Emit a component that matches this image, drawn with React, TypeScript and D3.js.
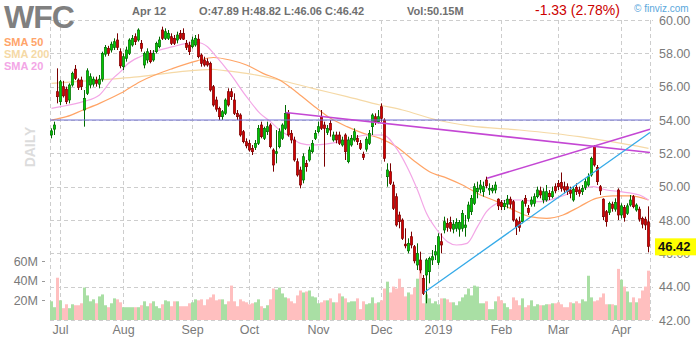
import React from "react";
import * as d3 from "d3";

const opens = [53.1,53.45,55.7,55.1,56.0,55.85,55.2,56.1,57.05,56.4,56.4,54.6,55.6,56.1,56.15,56.4,56.15,56.45,57.95,58.3,58.2,58.35,58.8,58.1,57.2,57.7,58.0,58.5,59.0,58.8,58.6,57.3,57.6,58.0,57.6,58.1,58.4,59.4,58.9,58.9,59.0,58.9,58.8,59.2,59.2,58.6,58.5,58.4,58.5,58.85,57.9,57.6,57.5,57.4,56.0,55.2,54.7,54.2,54.4,55.7,55.7,55.2,54.4,54.3,53.3,52.7,52.6,52.3,52.35,52.6,53.7,52.9,53.3,53.7,52.2,52.0,52.4,52.9,53.5,54.4,53.2,52.8,51.5,51.0,50.4,51.4,51.6,52.1,52.9,53.3,54.2,53.7,53.25,53.8,52.8,53.1,53.1,52.5,53.1,51.5,52.5,52.8,52.9,52.6,51.95,52.25,52.6,53.6,54.2,53.9,54.8,54.0,50.6,50.9,50.1,49.4,48.3,48.0,46.55,46.15,47.0,46.4,45.3,45.6,44.5,44.7,44.9,45.6,45.9,45.45,46.7,47.4,47.8,47.85,47.45,47.5,47.45,47.5,47.55,48.1,48.5,49.0,49.7,49.85,49.7,50.4,49.8,49.75,49.8,49.25,49.05,48.8,48.95,49.25,49.1,48.0,47.9,47.9,49.3,48.7,48.95,49.0,49.4,49.75,49.2,49.2,49.6,49.4,50.0,50.2,50.25,50.0,50.0,49.8,49.2,49.95,49.8,49.7,49.95,50.1,50.7,52.4,51.15,50.0,49.25,48.5,48.45,48.95,48.65,49.8,48.3,48.75,48.4,48.9,49.4,48.6,48.65,48.1,48.05,47.89];
const highs = [53.5,53.9,57.1,56.4,56.35,56.0,56.2,56.9,57.3,56.5,56.6,55.8,57.1,56.8,56.6,56.6,56.7,58.1,58.5,58.45,58.7,58.9,59.2,58.3,58.0,58.4,58.9,59.1,59.2,59.5,58.8,58.1,58.3,58.2,58.2,58.7,59.0,59.6,59.5,59.4,59.2,59.1,59.3,59.4,59.5,58.8,58.7,59.0,59.1,59.15,58.0,57.8,57.7,57.5,56.1,55.4,54.8,54.6,55.3,55.9,55.9,55.6,54.6,54.4,53.4,52.9,52.8,52.5,52.8,53.7,53.9,53.6,53.9,53.8,52.3,53.4,53.5,53.8,54.9,54.6,53.4,53.0,51.7,51.2,52.0,51.6,52.4,52.8,53.4,53.9,54.6,53.9,53.7,54.0,53.3,53.3,53.3,53.0,53.2,53.0,53.1,53.5,53.1,52.8,52.1,53.0,53.4,54.4,54.4,54.6,55.0,54.1,51.4,51.4,50.3,49.6,48.5,48.1,47.5,46.9,47.3,46.5,46.6,46.1,44.7,45.7,45.8,46.2,46.5,47.2,47.2,48.2,48.1,48.2,48.0,48.1,48.0,48.6,48.3,49.1,49.5,50.2,50.3,50.4,50.3,50.6,50.2,50.1,50.3,49.3,49.2,49.2,49.5,49.4,49.2,48.1,48.2,49.2,49.5,48.9,49.4,49.6,50.0,50.0,49.9,50.1,49.8,50.0,50.2,50.4,50.85,50.3,50.2,50.0,50.0,50.2,50.0,50.1,50.5,50.8,51.8,52.5,51.3,50.1,49.3,48.6,49.1,49.1,49.3,49.9,49.0,48.9,49.0,49.5,49.5,49.0,48.8,48.2,48.2,48.82];
const lows = [52.9,53.1,55.0,54.9,55.35,54.95,55.0,56.0,56.4,55.8,55.8,53.6,55.5,55.9,56.0,56.0,55.9,56.3,57.8,57.85,58.05,58.2,58.2,57.1,57.0,57.5,57.9,58.4,58.5,58.7,58.1,57.1,57.4,57.4,57.5,58.0,58.3,58.8,58.8,58.8,58.5,58.5,58.6,58.8,58.8,58.2,57.9,58.3,58.4,57.7,57.2,57.2,57.2,55.7,54.8,54.5,54.0,54.0,54.3,54.8,55.2,54.3,54.0,53.0,52.6,52.3,52.1,51.9,52.2,52.5,52.9,52.8,53.1,52.3,50.9,51.4,52.3,52.8,53.4,53.0,52.6,51.5,50.6,49.9,50.2,50.9,51.5,52.0,52.8,53.2,53.4,51.2,53.1,53.0,52.7,52.6,52.5,52.4,51.6,51.4,52.4,52.7,52.5,52.2,51.6,52.1,52.5,53.1,53.7,53.8,53.9,51.5,50.0,50.1,48.6,47.6,47.5,46.8,46.3,46.0,46.3,45.4,45.0,44.8,43.5,43.0,44.2,45.3,45.6,45.3,46.0,47.2,47.3,47.3,47.2,47.3,47.0,47.3,47.0,47.9,48.3,48.9,49.3,49.6,49.4,49.9,49.5,49.6,49.6,48.6,48.6,48.6,48.7,48.7,47.9,47.1,47.3,47.8,48.8,48.3,48.8,48.8,49.3,49.3,49.0,49.1,49.2,49.3,49.6,49.8,49.7,49.6,49.5,49.3,49.1,49.5,49.4,49.5,49.8,50.0,50.6,51.2,50.1,49.5,48.0,47.6,48.3,48.5,48.5,48.0,48.1,47.9,48.3,48.8,48.7,48.5,47.9,47.5,47.4,46.06];
const closes = [53.35,53.7,55.4,56.3,55.45,55.1,56.1,56.8,56.5,55.95,56.0,55.3,56.95,56.6,56.45,56.2,56.45,58.0,58.35,58.0,58.55,58.7,58.35,57.25,57.8,58.2,58.8,58.9,58.7,59.4,58.3,58.0,58.1,57.5,58.0,58.6,58.8,58.9,59.3,59.2,58.6,58.6,59.1,58.9,58.85,58.35,58.1,58.8,58.9,57.8,57.4,57.3,57.3,55.8,54.9,54.65,54.2,54.5,55.2,54.9,55.4,54.4,54.2,53.1,52.7,52.45,52.2,52.1,52.6,53.5,53.0,53.5,53.6,52.4,51.3,52.1,53.3,53.7,54.4,53.1,52.8,51.6,50.7,50.1,51.8,51.2,52.2,52.6,53.2,53.6,53.5,53.5,53.5,53.4,53.1,52.8,52.6,52.8,52.1,52.8,52.9,53.3,52.7,52.3,51.75,52.85,53.2,54.3,53.9,54.2,54.1,51.7,51.0,50.2,48.7,47.7,47.9,46.9,46.45,46.6,46.5,45.55,46.0,45.0,43.6,45.6,45.7,45.8,46.1,47.0,46.5,47.9,47.55,47.5,47.75,47.85,47.85,48.4,47.7,48.9,49.3,50.0,49.9,50.1,50.0,50.05,49.9,49.9,50.1,48.85,48.8,49.0,49.25,48.95,48.0,47.6,47.55,49.1,49.0,48.45,49.2,49.4,49.8,49.5,49.7,49.7,49.4,49.7,49.75,50.0,49.9,49.8,49.7,49.6,49.85,49.7,49.6,49.9,50.3,50.6,51.7,51.3,50.3,49.75,48.2,47.9,49.0,48.7,49.05,48.3,48.85,48.15,48.85,49.2,48.8,48.9,48.05,47.75,47.7,46.42];
const volumes = [19,13,43,20,12,16,12,16,15,15,17,33,25,19,21,17,24,26,15,13,17,22,21,18,13,13,13,13,13,13,15,19,14,17,19,14,12,16,20,19,14,19,19,14,14,14,17,18,21,20,21,15,21,23,26,20,21,21,16,19,35,19,14,21,19,18,16,17,18,21,14,12,15,21,32,31,33,27,23,22,19,17,25,30,28,29,30,24,23,17,18,20,20,22,18,18,27,24,22,18,19,19,22,11,19,16,17,23,17,18,20,32,39,28,34,32,42,33,24,28,26,33,42,51,17,26,22,17,19,16,22,22,21,18,18,15,19,23,26,32,25,35,34,17,17,19,11,11,19,24,20,17,13,11,23,20,15,22,13,15,20,14,16,15,15,16,16,17,17,18,16,13,13,18,17,19,17,21,19,45,23,19,20,23,27,16,16,16,15,52,41,34,29,18,23,18,22,30,34,50.15];

const monthIdx = [3, 24, 47, 66, 89, 110, 129, 150, 169, 190];
const monthLabels = ["Jul", "Aug", "Sep", "Oct", "Nov", "Dec", "2019", "Feb", "Mar", "Apr"];
const priceTicks = [60, 58, 56, 54, 52, 50, 48, 46, 44, 42];
const volTicks = [60, 40, 20];

const sma20 = [[0,54.7],[3,54.8],[10.5,55.1],[16,55.5],[20.5,56.5],[23,56.9],[25,57.3],[29.5,57.8],[34,58.1],[40.5,58.4],[45,58.6],[48.5,58.65],[52,58.4],[54,58.0],[59.5,56.8],[65,55.4],[69.5,54.4],[73,53.9],[76,53.4],[79.5,53.0],[83,52.6],[87,52.5],[93,52.6],[98.5,52.8],[105,53.1],[110.5,53.1],[115,52.3],[118.5,51.2],[122,49.8],[125,48.4],[128.5,47.4],[132,46.7],[135,46.5],[138.5,46.6],[142,47.6],[145,48.5],[148.5,49.0],[152,49.2],[156,49.2],[163,49.1],[169.5,49.4],[176,49.8],[180.5,50.0],[185,49.8],[189.5,49.7],[196,49.5],[199,49.2]];
const sma50 = [[0,54.0],[5,54.2],[10.5,54.6],[16,55.0],[23,55.6],[29.5,56.3],[40.5,57.1],[48.5,57.55],[54,57.75],[59.5,57.6],[65,57.3],[70.5,56.8],[76,56.4],[81.5,55.7],[87,54.9],[93,54.1],[98.5,53.6],[104,53.2],[109.5,52.9],[115,52.4],[120.5,51.6],[126,50.9],[132,50.5],[137,50.1],[143,49.5],[148.5,49.1],[154,48.6],[159.5,48.2],[165,48.1],[170.5,48.3],[176,48.8],[181.5,49.3],[187,49.45],[193,49.45],[199,49.2]];
const sma200 = [[0,56.2],[23,56.5],[29.5,56.6],[43,56.9],[54,57.04],[56,57.0],[65,56.8],[76,56.4],[87,55.9],[98.5,55.4],[109.5,54.9],[117,54.6],[128.5,54.0],[139.5,53.65],[156,53.4],[176,53.0],[199,52.3]];

const hLineLevel = [54.0];
const trendPurple = [[[78,54.45],[199.5,52.05]],[[145.2,50.5],[199.5,53.45]]];
const trendBlue = [[[124.2,43.65],[199.5,53.25]]];

const FONT = "Arial, 'Liberation Sans', Helvetica, sans-serif";

export default function App() {
  const N = closes.length;
  const L = 50, R = 650, T = 20, B = 320;
  const xb = d3.scaleBand<number>().domain(d3.range(N)).range([L, R]).padding(0);
  const xi = d3.scaleLinear().domain([-0.5, N - 0.5]).range([L, R]);
  const y = d3.scaleLinear().domain([42, 60]).range([B, T]);
  const yv = d3.scaleLinear().domain([0, 60]).range([B, 261]);
  const bw = xb.bandwidth();
  const line = d3.line<number[]>().x(d => xi(d[0])).y(d => y(d[1])).curve(d3.curveMonotoneX);
  const seg = d3.line<number[]>().x(d => xi(d[0])).y(d => y(d[1]));
  const grid = "#cdcdcd";

  return (
    <svg width={700} height={340} style={{ position: "fixed", left: 0, top: 0, background: "#fff" }} fontFamily={FONT}>
      <rect x={0} y={0} width={700} height={340} fill="#fff" />
      {priceTicks.map(p => (
        <line key={"h" + p} x1={L} x2={R + 3} y1={Math.round(y(p)) + 0.5} y2={Math.round(y(p)) + 0.5} stroke={grid} strokeDasharray="4,3" />
      ))}
      {[L, R].map(v => (
        <line key={"e" + v} x1={v + 0.5} x2={v + 0.5} y1={T} y2={B} stroke={grid} strokeDasharray="4,3" />
      ))}
      {monthIdx.map(i => (
        <line key={"v" + i} x1={Math.floor(xb(i)! + bw / 2) + 0.5} x2={Math.floor(xb(i)! + bw / 2) + 0.5} y1={T} y2={B} stroke={grid} strokeDasharray="4,3" />
      ))}
      {volumes.map((v, i) => (
        <rect key={"vol" + i} x={xb(i)!} width={bw} y={yv(v)} height={B - yv(v)} fill={closes[i] >= opens[i] ? "#a9dfa4" : "#ffbfbf"} />
      ))}
      <path d={line(sma200)!} fill="none" stroke="#f5d9a6" strokeWidth={1.2} />
      <path d={line(sma50)!} fill="none" stroke="#ffa466" strokeWidth={1.2} />
      <path d={line(sma20)!} fill="none" stroke="#f3a6e6" strokeWidth={1.2} />
      {closes.map((c, i) => {
        const up = c >= opens[i];
        const cx = xb(i)! + bw / 2;
        const top = y(Math.max(opens[i], c));
        const bot = y(Math.min(opens[i], c));
        return (
          <g key={"c" + i}>
            <line x1={cx} x2={cx} y1={y(highs[i])} y2={y(lows[i])} stroke={up ? "#006b00" : "#7a0000"} strokeWidth={1} />
            <rect x={cx - 1.1} width={2.2} y={top} height={Math.max(1, bot - top)} fill={up ? "#00c800" : "#d40000"} stroke={up ? "#006b00" : "#7a0000"} strokeWidth={0.7} />
          </g>
        );
      })}
      {hLineLevel.map(p => (
        <line key={"hl" + p} x1={L} x2={R} y1={y(p)} y2={y(p)} stroke="#6f6fd3" strokeWidth={1.2} />
      ))}
      {trendPurple.map((t, k) => (
        <path key={"tp" + k} d={seg(t)!} stroke="#c447d4" strokeWidth={1.6} fill="none" />
      ))}
      {trendBlue.map((t, k) => (
        <path key={"tb" + k} d={seg(t)!} stroke="#35aae8" strokeWidth={1.3} fill="none" />
      ))}
      {priceTicks.map(p => (
        <text key={"pl" + p} x={659} y={y(p) + 4.5} fontSize={12.5} fill="#7a7a7a">{p.toFixed(2)}</text>
      ))}
      <rect x={655} y={y(closes[N - 1]) - 8} width={41} height={17} fill="#ffff00" />
      <text x={658} y={y(closes[N - 1]) + 5} fontSize={13} fontWeight="bold" fill="#111">{closes[N - 1].toFixed(2)}</text>
      {volTicks.map(v => (
        <g key={"vt" + v}>
          <text x={38} y={yv(v) + 4.5} fontSize={12.5} fill="#7a7a7a" textAnchor="end">{v + "M"}</text>
          <line x1={42} x2={45} y1={Math.round(yv(v)) + 0.5} y2={Math.round(yv(v)) + 0.5} stroke="#999" />
        </g>
      ))}
      {monthIdx.map((i, k) => (
        <text key={"ml" + i} x={xb(i)! + bw / 2} y={334} fontSize={12.5} fill="#7a7a7a" textAnchor="middle">{monthLabels[k]}</text>
      ))}
      <text x={4} y={28} fontSize={32} fontWeight="bold" fill="#808080" letterSpacing={-1}>WFC</text>
      <text x={132} y={15} fontSize={11} fontWeight="bold" fill="#707070">Apr 12</text>
      <text x={199} y={15} fontSize={11} fontWeight="bold" fill="#707070">O:47.89 H:48.82 L:46.06 C:46.42</text>
      <text x={407} y={15} fontSize={11} fontWeight="bold" fill="#707070">Vol:50.15M</text>
      <text x={535} y={15} fontSize={14} fill="#cc0000">-1.33 (2.78%)</text>
      <text x={634} y={12} fontSize={10} fill="#5aa7dc">© finviz.com</text>
      <text x={4} y={46} fontSize={11} fontWeight="bold" fill="#ffa46a">SMA 50</text>
      <text x={4} y={58} fontSize={11} fontWeight="bold" fill="#f5d9a6">SMA 200</text>
      <text x={4} y={70} fontSize={11} fontWeight="bold" fill="#f3a6e6">SMA 20</text>
      <text transform="translate(35,147) rotate(-90)" fontSize={14} fontWeight="bold" fill="#dcdcdc" textAnchor="middle">DAILY</text>
    </svg>
  );
}
